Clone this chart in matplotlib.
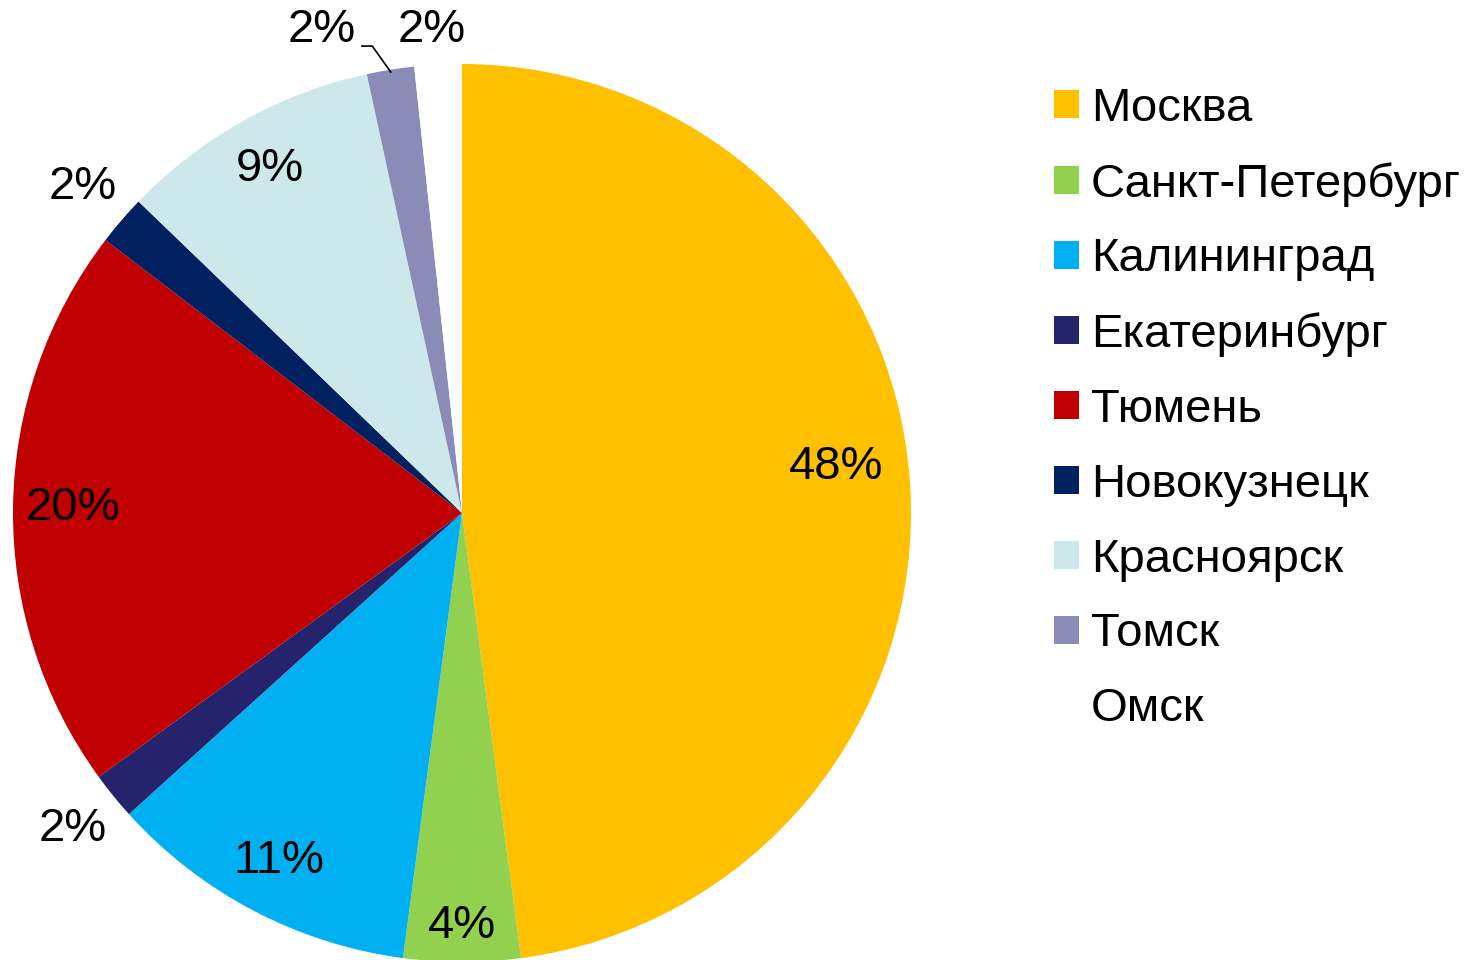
import numpy as np
import matplotlib
matplotlib.use("Agg")
import matplotlib.pyplot as plt
from matplotlib.patches import Patch

plt.rcParams['font.family'] = ['Liberation Sans', 'DejaVu Sans']

cities = ["Москва", "Санкт-Петербург", "Калининград", "Екатеринбург", "Тюмень",
          "Новокузнецк", "Красноярск", "Томск", "Омск"]
shares = [47.9, 4.2, 11.2, 1.7, 20.4, 1.8, 9.4, 1.7, 1.7]
pct_labels = ["48%", "4%", "11%", "2%", "20%", "2%", "9%", "2%", "2%"]
colors = ["#FFC000", "#92D050", "#00B0F0", "#25236B", "#C00000",
          "#002060", "#CDE8EA", "#8B8BB8", "#FFFFFF"]

# label placement (style): radial distance and angular nudge per label
label_r = [0.84, 0.92, 0.876, 1.117, 0.866, 1.114, 0.878, 1.12, 1.078]
label_dang = [3.2, 0, 0, 0, 0, 0, 0, 7.0, 0.5]

W, H = 1478, 960
fig = plt.figure(figsize=(W / 100, H / 100), dpi=100)
cx, cy, R = 462, 513, 449
ax = fig.add_axes([(cx - R) / W, (H - cy - R) / H, 2 * R / W, 2 * R / H])
wedges, _ = ax.pie(shares, colors=colors, startangle=90, counterclock=False,
                   radius=1.0, wedgeprops=dict(linewidth=0))
ax.set_xlim(-1, 1)
ax.set_ylim(-1, 1)
ax.set_aspect('equal')
ax.axis('off')

fs = 34
for i, w in enumerate(wedges):
    mid = 0.5 * (w.theta1 + w.theta2)
    a = np.deg2rad(mid + label_dang[i])
    x, y = label_r[i] * np.cos(a), label_r[i] * np.sin(a)
    ax.text(x, y, pct_labels[i], ha='center', va='center', fontsize=fs,
            color='black', clip_on=False)
    if cities[i] == "Томск":
        m = np.deg2rad(mid)
        p0 = (np.cos(m) * 0.995, np.sin(m) * 0.995)
        e = np.deg2rad(mid + 1.7)
        p1 = (1.059 * np.cos(e), 1.059 * np.sin(e))
        p2 = (p1[0] - 0.023, p1[1])
        ax.plot([p0[0], p1[0], p2[0]], [p0[1], p1[1], p2[1]], color='black',
                lw=1.2, clip_on=False)

handles = [Patch(facecolor=c, edgecolor='none') for c in colors]
fig.legend(handles, cities, loc='upper left',
           bbox_to_anchor=(1054 / W, (H - 87) / H), frameon=False,
           fontsize=fs, handlelength=0.53, handleheight=0.53,
           handletextpad=0.25, labelspacing=0.653, borderpad=0, borderaxespad=0)

fig.savefig("out.png", dpi=100)
